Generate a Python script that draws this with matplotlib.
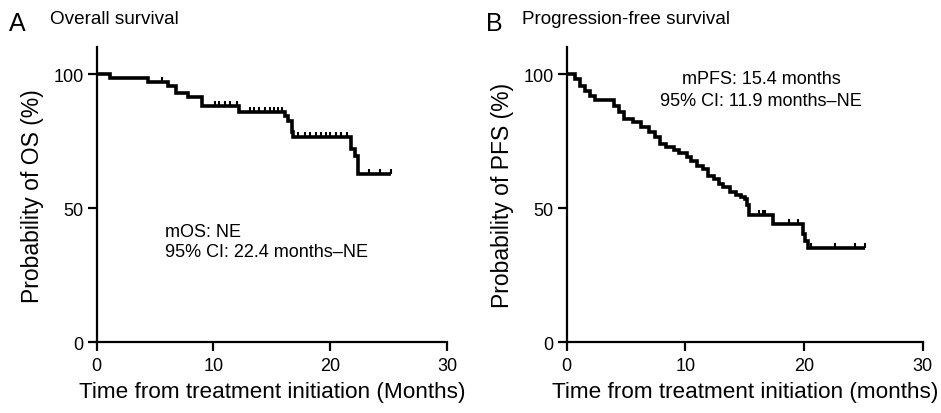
import numpy as np
import matplotlib
matplotlib.use("Agg")
import matplotlib.pyplot as plt
from matplotlib.path import Path
from matplotlib import font_manager as fm

# ---------------- data ----------------
os_event_t = [1.14, 4.4, 6.07, 6.78, 7.83, 9.0, 12.2, 16.1, 16.4, 16.7, 16.8, 21.8, 22.1, 22.4]
os_level = [98.5, 97.1, 95.7, 92.8, 91.3, 88.2, 85.8, 84.3, 82.6, 78.3, 76.7, 72.0, 69.5, 62.7]
os_censor_t = [5.55, 10.1, 10.5, 11.0, 11.4, 12.0, 13.1, 13.5, 13.9, 14.4, 14.8, 15.2, 15.5, 15.9,
               17.2, 17.8, 18.3, 18.8, 19.2, 19.6, 20.0, 20.5, 20.9, 21.4, 23.3, 24.3, 25.2]

pfs_event_t = [0.7, 1.12, 1.54, 1.97, 2.39, 4.0, 4.4, 4.8, 5.6, 6.3, 6.9, 7.4, 7.9, 8.4, 9.0, 9.5,
               10.1, 10.5, 11.0, 11.5, 11.9, 12.4, 12.8, 13.2, 13.8, 14.3, 14.7, 15.0, 15.2, 15.4,
               17.4, 19.9, 20.1, 20.3]
pfs_level = [98.1, 95.7, 93.8, 91.9, 90.3, 88.2, 85.7, 83.2, 82.0, 80.1, 78.3, 76.4, 73.9, 72.7,
             71.5, 70.4, 69.2, 67.7, 65.8, 64.6, 62.1, 60.9, 59.0, 57.8, 56.2, 55.0, 54.0, 53.3,
             51.0, 47.5, 44.1, 40.4, 37.9, 35.2]
pfs_censor_t = [16.2, 16.5, 16.7, 18.7, 19.5, 20.6, 22.6, 24.3, 25.1]

x_ticks = [0, 10, 20, 30]
y_ticks = [0, 50, 100]

panel_letters = ["A", "B"]
panel_titles = ["Overall survival", "Progression-free survival"]
x_labels = ["Time from treatment initiation (Months)", "Time from treatment initiation (months)"]
y_labels = ["Probability of OS (%)", "Probability of PFS (%)"]
notes = [["mOS: NE", "95% CI: 22.4 months\u2013NE"],
         ["mPFS: 15.4 months", "95% CI: 11.9 months\u2013NE"]]

# ---------------- style ----------------
names = {f.name for f in fm.fontManager.ttflist}
base = "Liberation Sans" if "Liberation Sans" in names else "DejaVu Sans"
narrow = "Liberation Sans Narrow" if "Liberation Sans Narrow" in names else base
title_size = 12.5 if narrow != base else 13.6
plt.rcParams["font.family"] = [base, "DejaVu Sans"]

W, H = 941, 414
fig = plt.figure(figsize=(W / 100, H / 100), dpi=100)

def px_axes(x0, x1, ytop, ybot):
    return fig.add_axes([x0 / W, 1 - ybot / H, (x1 - x0) / W, (ybot - ytop) / H])

axA = px_axes(96.7, 447.0, 48.2, 343.3)
axB = px_axes(566.7, 922.7, 48.2, 343.3)

censor_marker = Path([(0, 0), (0, 1)], [Path.MOVETO, Path.LINETO])

def km(ax, ev_t, lev, cens_t):
    end = max(max(cens_t), max(ev_t))
    xs = np.array([0.0] + list(ev_t) + [end])
    ys = np.array([100.0] + list(lev) + [lev[-1]])
    ax.step(xs, ys, where="post", color="black", lw=2.6, solid_joinstyle="miter",
            solid_capstyle="butt", zorder=3)
    ct = np.array(cens_t)
    idx = np.searchsorted(xs, ct, side="right") - 1
    cy = ys[idx]
    ax.plot(ct, cy, linestyle="none", marker=censor_marker, markersize=7.5,
            markeredgewidth=1.5, color="black", zorder=3)

km(axA, os_event_t, os_level, os_censor_t)
km(axB, pfs_event_t, pfs_level, pfs_censor_t)

for i, ax in enumerate([axA, axB]):
    ax.set_xlim(0, 30)
    ax.set_ylim(0, 110)
    ax.set_xticks(x_ticks)
    ax.set_yticks(y_ticks)
    for s in ["top", "right"]:
        ax.spines[s].set_visible(False)
    for s in ["left", "bottom"]:
        ax.spines[s].set_linewidth(1.6)
    ax.tick_params(direction="out", length=6.8, width=1.6, labelsize=13, pad=2.5)
    ax.tick_params(axis="x", pad=4)
    ax.set_xlabel(x_labels[i], fontsize=16.2, labelpad=5)
    ax.set_ylabel(y_labels[i], fontsize=16.5, labelpad=7)
    ax.patch.set_alpha(0)

# annotations
axA.text(5.84, 41.3, notes[0][0], fontsize=13, ha="left", va="center")
axA.text(5.84, 33.8, notes[0][1], fontsize=13, ha="left", va="center")
axB.text(16.4, 98.2, notes[1][0], fontsize=13, ha="center", va="center")
axB.text(16.4, 90.0, notes[1][1], fontsize=13, ha="center", va="center")

# panel letters & titles
fig.text(9 / W, 1 - 24 / H, panel_letters[0], fontsize=18, ha="left", va="center")
fig.text(50 / W, 1 - 19 / H, panel_titles[0], fontsize=title_size, family=[narrow, "DejaVu Sans"],
         ha="left", va="center")
fig.text(486 / W, 1 - 24 / H, panel_letters[1], fontsize=18, ha="left", va="center")
fig.text(522 / W, 1 - 19 / H, panel_titles[1], fontsize=title_size, family=[narrow, "DejaVu Sans"],
         ha="left", va="center")

fig.savefig("out.png", dpi=100)
